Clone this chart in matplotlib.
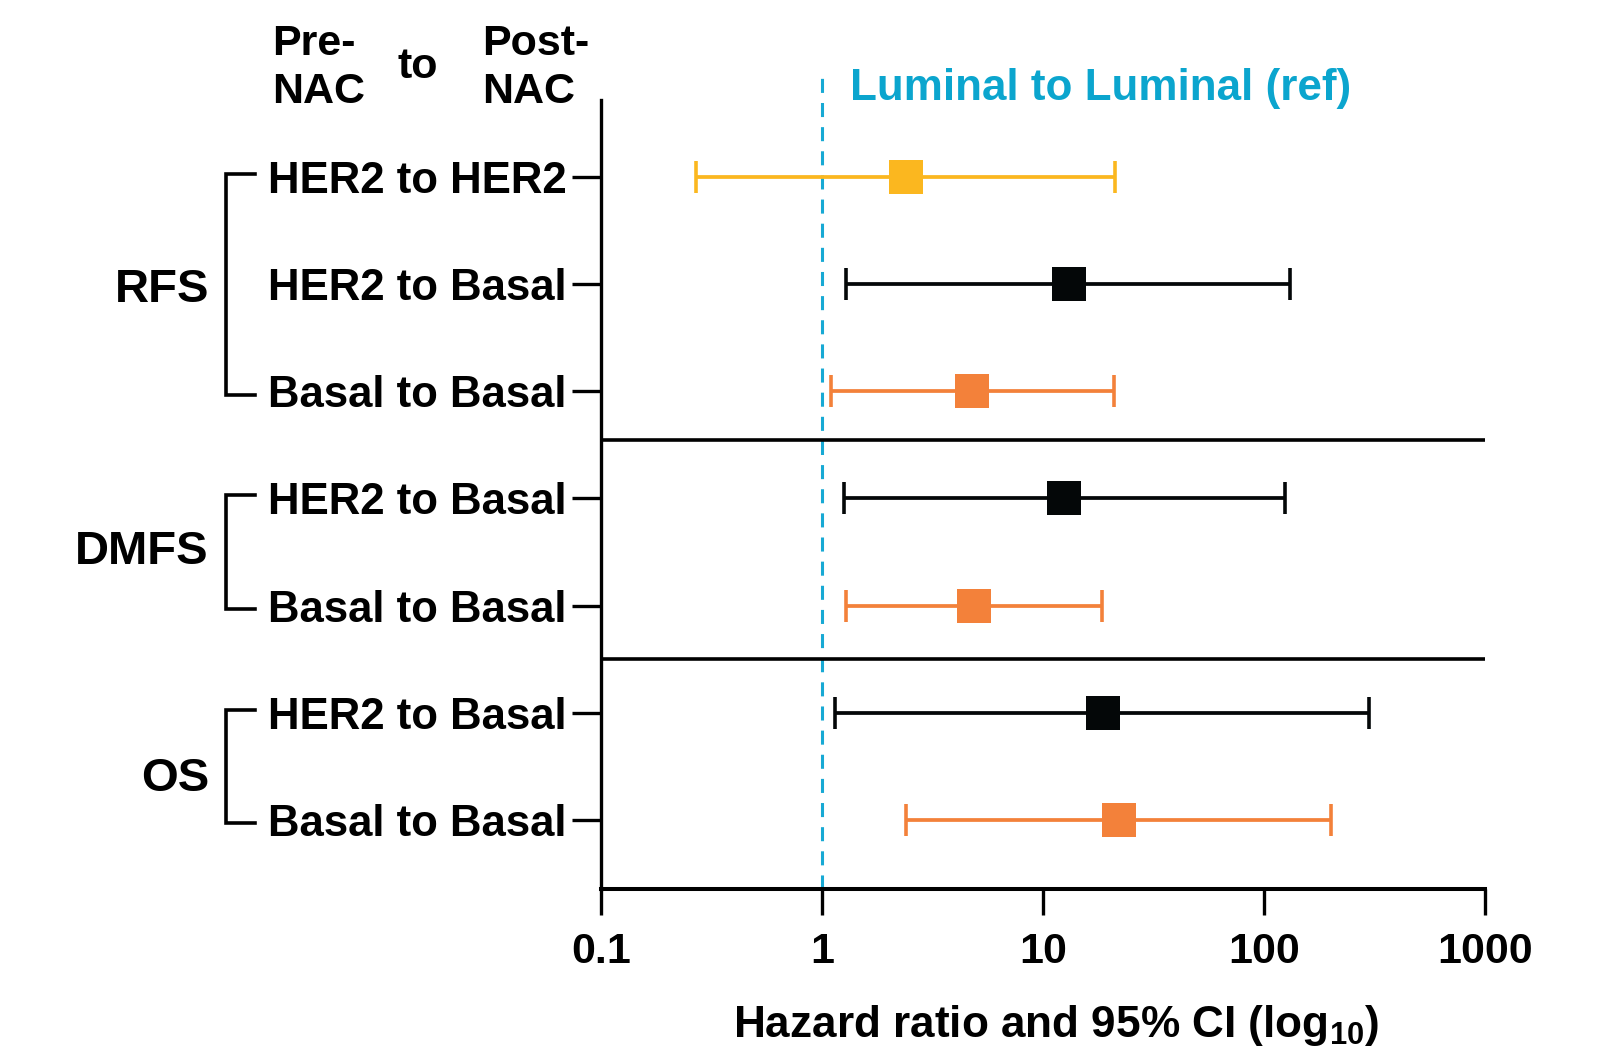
import matplotlib
matplotlib.use("Agg")
import matplotlib.pyplot as plt
import matplotlib.transforms as mtransforms

plt.rcParams['font.family'] = ['Liberation Sans', 'DejaVu Sans']
plt.rcParams['font.weight'] = 'bold'
plt.rcParams['mathtext.fontset'] = 'custom'
plt.rcParams['mathtext.rm'] = 'Liberation Sans:bold'
plt.rcParams['mathtext.bf'] = 'Liberation Sans:bold'
plt.rcParams['mathtext.default'] = 'bf'

# ---- data ----
row_labels = ["HER2 to HER2", "HER2 to Basal", "Basal to Basal",
              "HER2 to Basal", "Basal to Basal",
              "HER2 to Basal", "Basal to Basal"]
hazard_ratio = [2.39, 13.1, 4.79, 12.5, 4.87, 18.6, 22.0]
ci_lower = [0.27, 1.28, 1.10, 1.26, 1.28, 1.15, 2.40]
ci_upper = [21.1, 131, 20.9, 125, 18.4, 300, 200]
row_colors = ["#FBB71F", "#040708", "#F3813A", "#040708", "#F3813A", "#040708", "#F3813A"]
groups = ["RFS", "DMFS", "OS"]
group_rows = [[0, 1, 2], [3, 4], [5, 6]]
x_ticks = [0.1, 1, 10, 100, 1000]
x_ticklabels = ["0.1", "1", "10", "100", "1000"]
ref_value = 1
ref_label = "Luminal to Luminal (ref)"
xlabel = r"Hazard ratio and 95% CI (log$_{10}$)"

W, H = 1597, 1046
fig = plt.figure(figsize=(W / 100, H / 100), dpi=100)
ax = fig.add_axes([601 / W, 1 - 889 / H, (1485 - 601) / W, (889 - 74) / H])

ax.set_xscale('log')
ax.set_xlim(0.1, 1000)
ax.set_ylim(6.644, -0.961)

ys = list(range(len(row_labels)))
for y, m, lo, hi, c in zip(ys, hazard_ratio, ci_lower, ci_upper, row_colors):
    ax.errorbar([m], [y], xerr=[[m - lo], [hi - m]], fmt='none',
                ecolor=c, elinewidth=2.7, capsize=11.5, capthick=2.6, zorder=3)
    ax.plot([m], [y], marker='s', color=c, markersize=24, markeredgewidth=0,
            linestyle='none', zorder=4)

# reference line
ax.axvline(ref_value, color="#17A9D4", lw=2.2, dashes=(4.6, 3.3), zorder=2)
ax.text(850 / W, 1 - 100 / H, ref_label, transform=fig.transFigure,
        color="#0BA5CE", fontsize=31.7, fontweight='bold', ha='left', va='baseline')

# group separators
for sep in [2.453, 4.496]:
    ax.plot([0.1, 1000], [sep, sep], color='black', lw=2.6, solid_capstyle='round', zorder=2)

# spines
for s in ['top', 'right']:
    ax.spines[s].set_visible(False)
ax.spines['left'].set_bounds(6.644, -0.718)
ax.spines['left'].set_linewidth(2.4)
ax.spines['bottom'].set_linewidth(2.9)

ax.set_xticks(x_ticks)
ax.set_xticklabels(x_ticklabels)
ax.minorticks_off()
ax.tick_params(axis='x', direction='out', length=18.5, width=2.4, pad=12.5, labelsize=31)
ax.set_yticks(ys)
ax.set_yticklabels(row_labels)
ax.tick_params(axis='y', direction='out', length=21, width=2.4, pad=4, labelsize=31.5)
for lbl in ax.get_xticklabels() + ax.get_yticklabels():
    lbl.set_fontweight('bold')

# brackets and group labels
trans = mtransforms.blended_transform_factory(ax.transAxes, ax.transData)
xv = (226 - 601) / 884
xa = (255 - 601) / 884
group_offsets = [0.05, 0.0, 0.12]
for g, rows, off in zip(groups, group_rows, group_offsets):
    top, bot = rows[0], rows[-1]
    ax.plot([xa, xv, xv, xa], [top - 0.03, top - 0.03, bot + 0.03, bot + 0.03],
            transform=trans, color='black', lw=2.6, clip_on=False, solid_joinstyle='miter')
    ax.text((209 - 601) / 884, (top + bot) / 2 + off, g, transform=trans,
            fontsize=34, fontweight='bold', ha='right', va='center')

# header
fig.text(272 / W, 1 - 55 / H, "Pre-", fontsize=31, fontweight='bold', ha='left', va='baseline')
fig.text(272 / W, 1 - 103 / H, "NAC", fontsize=31, fontweight='bold', ha='left', va='baseline')
fig.text(397 / W, 1 - 78 / H, "to", fontsize=31, fontweight='bold', ha='left', va='baseline')
fig.text(482 / W, 1 - 55 / H, "Post-", fontsize=31, fontweight='bold', ha='left', va='baseline')
fig.text(482 / W, 1 - 103 / H, "NAC", fontsize=31, fontweight='bold', ha='left', va='baseline')

fig.text(1056 / W, 1 - 1037 / H, xlabel, fontsize=31.8, fontweight='bold', ha='center', va='baseline')

fig.savefig("out.png", dpi=100)
